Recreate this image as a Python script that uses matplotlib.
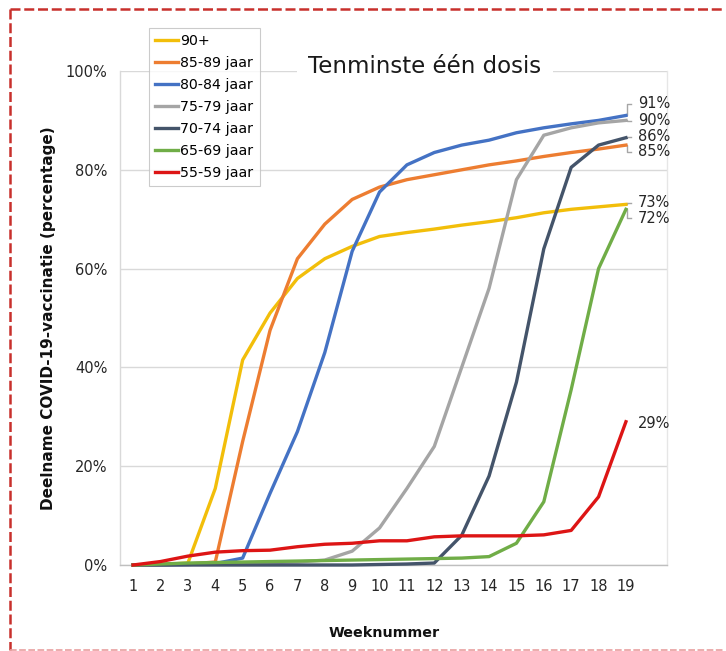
import matplotlib
matplotlib.use("Agg")
import matplotlib.pyplot as plt
from matplotlib.lines import Line2D

plt.rcParams['font.family'] = ['DejaVu Sans']

weeks = list(range(1, 20))
series_names = ["90+", "85-89 jaar", "80-84 jaar", "75-79 jaar",
                "70-74 jaar", "65-69 jaar", "55-59 jaar"]
v_90 = [0, 0.1, 0.4, 15.5, 41.5, 51, 58, 62, 64.5, 66.5, 67.3, 68, 68.8, 69.5, 70.3, 71.3, 72, 72.5, 73]
v_85 = [0, 0.05, 0.2, 0.6, 25, 47.5, 62, 69, 74, 76.5, 78, 79, 80, 81, 81.8, 82.7, 83.5, 84.2, 85]
v_80 = [0, 0, 0.1, 0.3, 1.4, 14.5, 27, 43, 63.5, 75.5, 81, 83.5, 85, 86, 87.5, 88.5, 89.3, 90, 91]
v_75 = [0, 0, 0.2, 0.3, 0.4, 0.5, 0.6, 1.0, 2.8, 7.5, 15.5, 24, 40, 56, 78, 87, 88.5, 89.5, 90]
v_70 = [0, 0, 0, 0, 0, 0, 0, 0, 0, 0.1, 0.2, 0.4, 6, 18, 37, 64, 80.5, 85, 86.5]
v_65 = [0, 0.2, 0.4, 0.5, 0.6, 0.7, 0.8, 0.9, 1.0, 1.1, 1.2, 1.3, 1.4, 1.7, 4.4, 12.8, 35.5, 60, 72]
v_55 = [0, 0.7, 1.8, 2.6, 2.9, 3.0, 3.7, 4.2, 4.4, 4.9, 4.9, 5.7, 5.9, 5.9, 5.9, 6.1, 7.0, 13.8, 29]
series_values = [v_90, v_85, v_80, v_75, v_70, v_65, v_55]
end_labels = ["73%", "85%", "91%", "90%", "86%", "72%", "29%"]
yticks = [0, 20, 40, 60, 80, 100]
ytick_labels = ["0%", "20%", "40%", "60%", "80%", "100%"]

colors = ["#F2BE0A", "#ED7D31", "#4472C4", "#A5A5A5", "#44546A", "#70AD47", "#DD1515"]
# label vertical positions (layout), in data units
label_y = [73.3, 83.7, 93.4, 89.9, 86.7, 70.2, 28.7]
draw_order = [3, 4, 5, 6, 0, 1, 2]

fig = plt.figure(figsize=(7.26, 6.51), dpi=100)
W, H = 726, 651
ax = fig.add_axes([120 / W, 1 - 565 / H, 547 / W, 494 / H])

for i in draw_order:
    ax.plot(weeks, series_values[i], color=colors[i], lw=2.4, clip_on=False,
            solid_joinstyle='round', zorder=3 + i * 0.01)

# end labels with leader lines
lx = weeks[-1] + 0.43
for i in range(len(series_names)):
    xe, ye = weeks[-1], series_values[i][-1]
    ty = label_y[i]
    ax.text(lx, ty, end_labels[i], fontsize=10.5, color="#262626",
            va='center', ha='left', zorder=6)
    if i != 6:
        ax.plot([xe, xe + 0.05, xe + 0.05, xe + 0.2],
                [ye, ye, ty, ty],
                color="#A6A6A6", lw=1, zorder=2, clip_on=False)

ax.set_xlim(0.52, 20.5)
ax.set_ylim(0, 100)
ax.set_xticks(weeks)
ax.set_xticklabels([str(w) for w in weeks])
ax.set_yticks(yticks)
ax.set_yticklabels(ytick_labels)
ax.tick_params(axis='both', length=0, labelsize=10.5, labelcolor="#262626")
ax.tick_params(axis='y', pad=9)
ax.tick_params(axis='x', pad=10)
ax.grid(axis='y', color="#D9D9D9", lw=1)
ax.set_axisbelow(True)
ax.spines['top'].set_visible(False)
ax.spines['left'].set_color("#D9D9D9")
ax.spines['right'].set_color("#E6E6E6")
ax.spines['bottom'].set_color("#BFBFBF")
for s in ['left', 'right', 'bottom']:
    ax.spines[s].set_linewidth(1)

ax.set_ylabel("Deelname COVID-19-vaccinatie (percentage)", fontsize=11,
              fontweight='bold', color="#111111")
ax.yaxis.set_label_coords(-0.117, 0.5)
ax.set_xlabel("Weeknummer", fontsize=10.3, fontweight='bold', color="#111111")
ax.xaxis.set_label_coords(0.483, -0.123)

ax.text((425 - 120) / 547, (565 - 66) / 494, "Tenminste één dosis",
        transform=ax.transAxes, fontsize=16.5, color="#1A1A1A",
        ha='center', va='center', zorder=5,
        bbox=dict(boxstyle='square,pad=0.5', fc='white', ec='none'))

handles = [Line2D([0], [0], color=colors[i], lw=2.4) for i in range(len(series_names))]
leg = fig.legend(handles, series_names, loc='upper left',
                 bbox_to_anchor=(149 / W, 1 - 28 / H), bbox_transform=fig.transFigure,
                 fontsize=10.2, frameon=True, fancybox=False, borderaxespad=0,
                 handlelength=1.6, handletextpad=0.15, labelspacing=0.56,
                 borderpad=0.45)
leg.get_frame().set_edgecolor("#BFBFBF")
leg.get_frame().set_linewidth(0.8)
leg.set_zorder(10)

# red dashed border (top, left, bottom)
bc = "#C8302C"
fig.add_artist(Line2D([10 / W, 10 / W], [1 - 9 / H, 1 - 650 / H], transform=fig.transFigure,
                      color=bc, lw=1.8, ls=(0, (4, 1.5))))
fig.add_artist(Line2D([10 / W, 0.999], [1 - 9 / H, 1 - 9 / H], transform=fig.transFigure,
                      color=bc, lw=1.8, ls=(0, (4, 1.5))))
fig.add_artist(Line2D([10 / W, 0.999], [1 - 650 / H, 1 - 650 / H], transform=fig.transFigure,
                      color="#E8A0A0", lw=1.2, ls=(0, (4, 1.5))))

fig.savefig("out.png", dpi=100)
